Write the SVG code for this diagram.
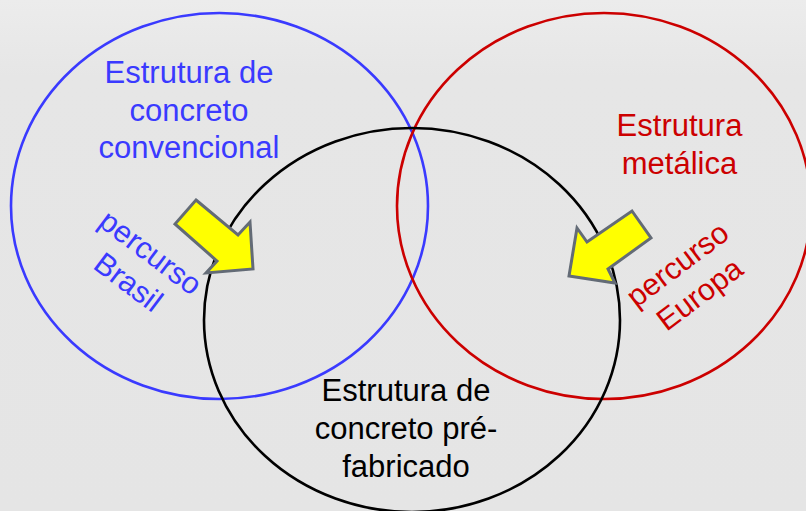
<svg xmlns="http://www.w3.org/2000/svg" width="806" height="511" viewBox="0 0 806 511">
<defs>
<linearGradient id="bg" x1="0" y1="0" x2="0" y2="1">
<stop offset="0" stop-color="#ececec"/>
<stop offset="0.15" stop-color="#e6e6e6"/>
<stop offset="1" stop-color="#e5e5e5"/>
</linearGradient>
<style>
.t{font-family:"Liberation Sans",Arial,sans-serif;font-size:31px;text-anchor:middle}
.r{font-family:"Liberation Sans",Arial,sans-serif;font-size:30.5px;text-anchor:middle}
.ring{fill:none;stroke-width:2.6}
.arrow{fill:#ffff00;stroke:#636b76;stroke-width:3;stroke-linejoin:miter}
</style>
</defs>
<rect width="806" height="511" fill="url(#bg)"/>
<g id="blue">
<ellipse class="ring" cx="219.5" cy="206" rx="208.5" ry="193" stroke="#3a3aff"/>
<text class="t" fill="#3a3aff"><tspan x="189" y="83">Estrutura de</tspan><tspan x="189" y="121">concreto</tspan><tspan x="189" y="158">convencional</tspan></text>
</g>
<g id="red">
<ellipse class="ring" cx="604" cy="206" rx="207" ry="193" stroke="#cc0000"/>
<text class="t" fill="#cc0000"><tspan x="679.5" y="136">Estrutura</tspan><tspan x="679.5" y="174">metálica</tspan></text>
</g>
<g id="black">
<ellipse class="ring" cx="412" cy="320" rx="208" ry="192" stroke="#000"/>
<text class="t" fill="#000"><tspan x="406" y="401">Estrutura de</tspan><tspan x="406" y="439">concreto pré-</tspan><tspan x="406" y="477">fabricado</tspan></text>
</g>
<g id="connectors">
<polygon class="arrow" points="196,200 238,235 250,222 253,269 206,273 217,261 175,224"/>
<polygon class="arrow" points="632,211 651,238 608,269 615,283 569,276 577,228 587,242"/>
</g>
<g id="percurso-brasil" transform="translate(139,268) rotate(37)">
<text class="r" fill="#3a3aff"><tspan x="0" y="-9">percurso</tspan><tspan x="0" y="28">Brasil</tspan></text>
</g>
<g id="percurso-europa" transform="translate(689,280) rotate(-37)">
<text class="r" fill="#cc0000"><tspan x="0" y="-9">percurso</tspan><tspan x="0" y="28">Europa</tspan></text>
</g>
</svg>
